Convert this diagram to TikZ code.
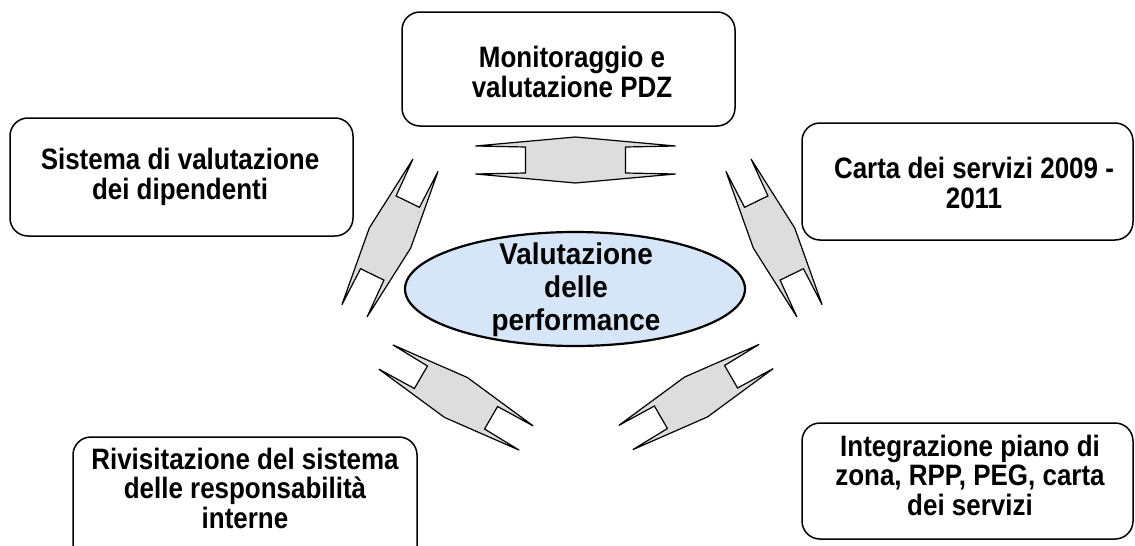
\documentclass[tikz,border=0pt]{standalone}
\usepackage{fontspec}
\setmainfont{Liberation Sans}
\newfontfamily\boxfont[FakeStretch=0.88]{Liberation Sans}
\newfontfamily\perffont[FakeStretch=0.93]{Liberation Sans}
\usetikzlibrary{shapes.geometric}

\definecolor{arrowgray}{RGB}{221,221,221}
\definecolor{perfblue}{RGB}{214,229,247}

\tikzset{
  pics/dblarrow/.style={code={
    \draw[arrowbody] (-#1,-14) -- (0,-23) -- (#1,-14) -- (#1/2,-13) -- (#1/2,13)
      -- (#1,14) -- (0,23) -- (-#1,14) -- (-#1/2,13) -- (-#1/2,-13) -- cycle;
  }}
}

\begin{document}
\begin{tikzpicture}[x=1pt, y=-1pt,
    box/.style={draw, line width=1.5pt, rounded corners=18pt, inner sep=0pt},
    lbl/.style={align=center, inner sep=0pt, font=\boxfont\bfseries\fontsize{29.5}{29.5}\selectfont},
    arrowbody/.style={draw, fill=arrowgray, line width=1.2pt}]

      \useasboundingbox (0,0) rectangle (1135,546);
      \clip (0,0) rectangle (1135,546);

      %riquadri
      \node (mon) at (568.5,69) [box, minimum width=333pt, minimum height=114pt] {};
      \node (sis) at (181.5,177) [box, minimum width=343pt, minimum height=118pt] {};
      \node (car) at (967.5,181.5) [box, minimum width=331pt, minimum height=117pt] {};
      \node (rsp) at (245,510) [box, minimum width=344pt, minimum height=146pt] {};
      \node (int) at (967.5,481) [box, minimum width=331pt, minimum height=116pt] {};

      %testi
      \node (montxt) at (572,72) [lbl] {Monitoraggio e\\valutazione PDZ};
      \node (sistxt) at (180,177) [lbl] {Sistema di valutazione\\dei dipendenti};
      \node (cartxt) at (974,183) [lbl] {Carta dei servizi 2009 -\\2011};
      \node (rsptxt) at (245,488) [lbl] {Rivisitazione del sistema\\delle responsabilit\`a\\interne};
      \node (inttxt) at (970,475) [lbl] {Integrazione piano di\\zona, RPP, PEG, carta\\dei servizi};

      %ellisse centrale
      \node (perf) at (575,289) [ellipse, draw, line width=2.2pt, fill=perfblue,
        minimum width=340pt, minimum height=114pt, inner sep=0pt] {};
      \node (perftxt) at (576,290) [lbl, font=\perffont\bfseries\fontsize{30}{33}\selectfont]
        {Valutazione\\delle\\performance};

      %frecce
      \pic (aMon) at (575.5,160) {dblarrow=100};
      \pic[rotate=64] (aSis) at (390,238) {dblarrow=81};
      \pic[rotate=-64] (aCar) at (774,238) {dblarrow=81};
      \pic[rotate=-30] (aRsp) at (456,397.5) {dblarrow=81};
      \pic[rotate=30] (aInt) at (696,397) {dblarrow=81};
    \end{tikzpicture}
\end{document}
